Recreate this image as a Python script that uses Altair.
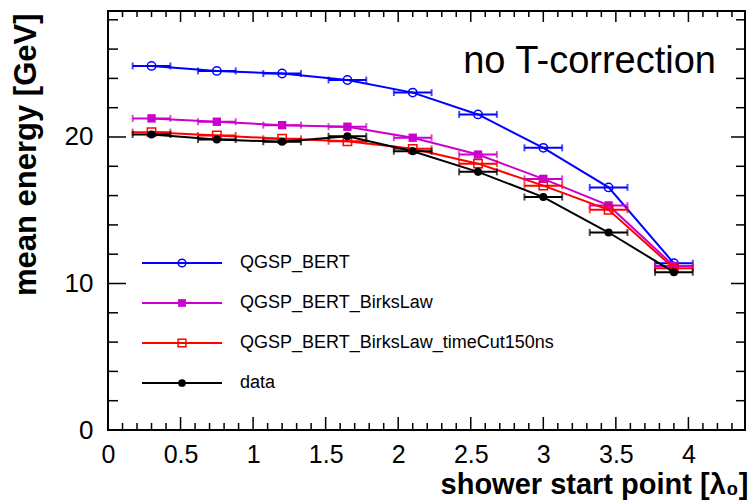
import altair as alt
import pandas as pd

# ---- data ----
x_pos = [0.3, 0.75, 1.2, 1.65, 2.1, 2.55, 3.0, 3.45, 3.9]
x_err = [0.13, 0.13, 0.13, 0.13, 0.13, 0.13, 0.13, 0.13, 0.13]

series_names = ["QGSP_BERT", "QGSP_BERT_BirksLaw",
                "QGSP_BERT_BirksLaw_timeCut150ns", "data"]
qgsp_bert = [24.85, 24.51, 24.33, 23.89, 23.03, 21.54, 19.26, 16.56, 11.38]
qgsp_birks = [21.27, 21.04, 20.81, 20.70, 19.95, 18.80, 17.14, 15.33, 11.20]
qgsp_birks_tc = [20.33, 20.10, 19.88, 19.71, 19.19, 18.18, 16.68, 15.03, 11.04]
data_vals = [20.17, 19.83, 19.67, 20.05, 19.03, 17.62, 15.90, 13.48, 10.77]
series_values = [qgsp_bert, qgsp_birks, qgsp_birks_tc, data_vals]

x_major = [0, 0.5, 1, 1.5, 2, 2.5, 3, 3.5, 4]
x_minor = [round(i * 0.1, 1) for i in range(0, 44) if i % 5 != 0]
y_major = [0, 10, 20]
y_minor = [2, 4, 6, 8, 12, 14, 16, 18, 22, 24, 26, 28]

# ---- styling ----
colors = ["#0000ff", "#cc00cc", "#ff0000", "#000000"]
shapes = ["circle", "square", "square", "circle"]
fills = [False, True, False, True]
sizes = [70, 70, 70, 65]
FONT = "Liberation Sans"

W, H = 637, 419
xscale = alt.Scale(domain=[0, 4.39], nice=False, zero=False)
yscale = alt.Scale(domain=[0, 28.6], nice=False, zero=False)

x_axis = alt.Axis(
    values=x_major, format="~g", ticks=False, tickSize=0, domain=False, grid=False,
    labelFontSize=25, labelFont=FONT, labelColor="black", labelPadding=32,
    labelBaseline="alphabetic", labelFlush=False, labelOverlap=False,
    title="shower start point [λ₀]", titleFont=FONT, titleFontSize=29,
    titleFontWeight="bold", titleColor="black", titleAnchor="end",
    titleAlign="right", titleBaseline="alphabetic", titleX=640, titleY=63)
y_axis = alt.Axis(
    values=y_major, ticks=False, tickSize=0, domain=False, grid=False,
    labelFontSize=26, labelFont=FONT, labelColor="black", labelPadding=15,
    labelOverlap=False,
    title="mean energy [GeV]", titleFont=FONT, titleFontSize=31,
    titleFontWeight="bold", titleColor="black", titleAnchor="end",
    titleAlign="right", titleBaseline="alphabetic", titleAngle=270,
    titleX=-73, titleY=2)


def X(field):
    return alt.X(field, scale=xscale, axis=x_axis)


def Y(field):
    return alt.Y(field, scale=yscale, axis=y_axis)


layers = []

# tick marks (inside, on all four sides)
def xticks(vals, y1, y2):
    return alt.Chart(pd.DataFrame({"v": vals})).mark_rule(color="black", strokeWidth=1.5).encode(
        x=X("v:Q"), y=alt.value(y1), y2=alt.value(y2))


def yticks(vals, x1, x2):
    return alt.Chart(pd.DataFrame({"v": vals})).mark_rule(color="black", strokeWidth=1.5).encode(
        y=Y("v:Q"), x=alt.value(x1), x2=alt.value(x2))


layers += [
    xticks(x_major, H, H - 13), xticks(x_minor, H, H - 7),
    xticks(x_major, 0, 11), xticks(x_minor, 0, 6),
    yticks(y_major, 0, 18), yticks(y_minor, 0, 10),
    yticks(y_major, W, W - 14), yticks(y_minor, W, W - 9),
]

# data series
for name, vals, col, shp, fl, sz in zip(series_names, series_values, colors, shapes, fills, sizes):
    df = pd.DataFrame({
        "x": x_pos, "y": vals,
        "lo": [a - e for a, e in zip(x_pos, x_err)],
        "hi": [a + e for a, e in zip(x_pos, x_err)],
    })
    base = alt.Chart(df)
    layers.append(base.mark_line(color=col, strokeWidth=2).encode(x=X("x:Q"), y=Y("y:Q")))
    layers.append(base.mark_rule(color=col, strokeWidth=2).encode(
        x=X("lo:Q"), x2="hi:Q", y=Y("y:Q")))
    for edge in ["lo", "hi"]:
        layers.append(base.mark_tick(color=col, orient="vertical", size=7, thickness=2).encode(
            x=X(f"{edge}:Q"), y=Y("y:Q")))
    layers.append(base.mark_point(color=col, shape=shp, filled=fl, size=sz,
                                  strokeWidth=1.5, opacity=1).encode(x=X("x:Q"), y=Y("y:Q")))

# legend (drawn by hand, ROOT style)
legend_rows = [252, 292, 332, 372]
for name, col, shp, fl, row in zip(series_names, colors, shapes, fills, legend_rows):
    lb = alt.Chart(pd.DataFrame({"name": [name]}))
    layers.append(lb.mark_rule(color=col, strokeWidth=2).encode(
        x=alt.value(34), x2=alt.value(114), y=alt.value(row)))
    layers.append(lb.mark_point(color=col, shape=shp, filled=fl, size=60,
                                strokeWidth=1.5, opacity=1).encode(
        x=alt.value(74), y=alt.value(row)))
    layers.append(lb.mark_text(align="left", baseline="middle", fontSize=18, font=FONT,
                               color="black").encode(
        x=alt.value(132), y=alt.value(row), text="name:N"))

# annotation
ann = alt.Chart(pd.DataFrame({"t": ["no T-correction"]})).mark_text(
    align="right", baseline="alphabetic", fontSize=38, font=FONT, color="black").encode(
    x=alt.value(608), y=alt.value(62), text="t:N")
layers.append(ann)

chart = alt.layer(*layers).properties(
    width=W, height=H,
    autosize=alt.AutoSizeParams(type="none"),
    padding={"left": 108, "top": 11, "right": 7, "bottom": 74},
    background="white",
).configure_view(stroke="black", strokeWidth=2)

chart.save("out.html", embed_options={"renderer": "svg", "actions": False})
